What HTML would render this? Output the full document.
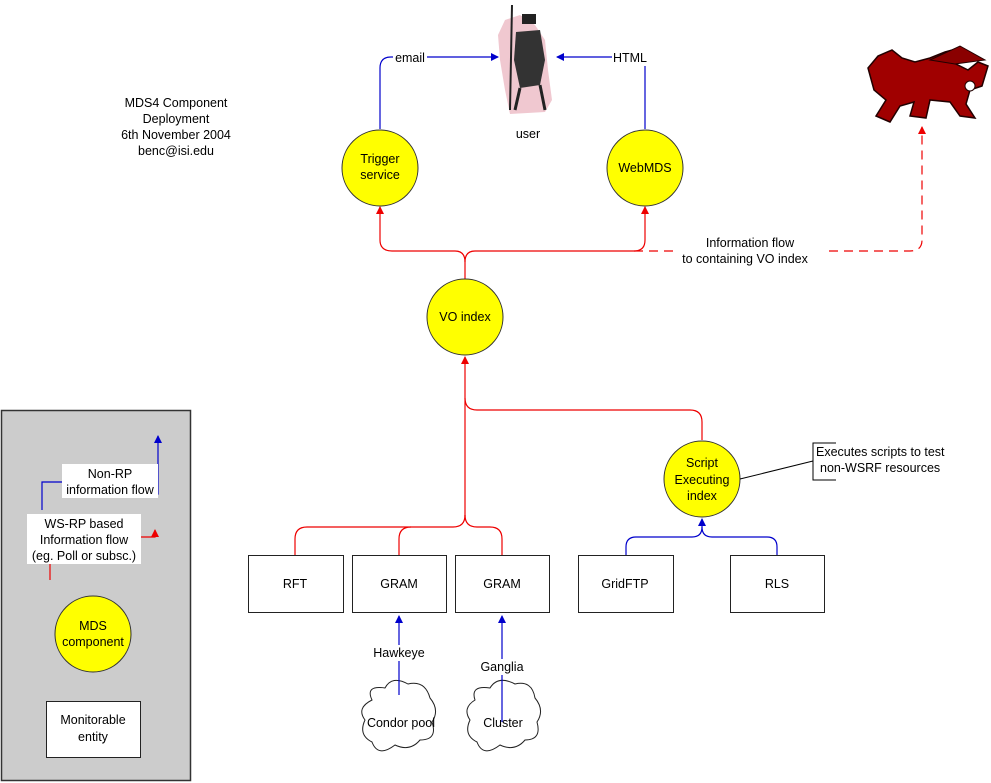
<!DOCTYPE html>
<html><head><meta charset="utf-8"><style>
html,body{margin:0;padding:0;background:#fff}
svg{display:block;font-family:"Liberation Sans",Arial,sans-serif;font-size:12.5px}
</style></head><body>
<svg width="991" height="783" viewBox="0 0 991 783" xmlns="http://www.w3.org/2000/svg">
<defs>
<marker id="ar" markerWidth="8" markerHeight="8" refX="7" refY="4" orient="auto" markerUnits="userSpaceOnUse"><path d="M0,0 L8,4 L0,8 z" fill="#e00"/></marker>
<marker id="ab" markerWidth="8" markerHeight="8" refX="7" refY="4" orient="auto" markerUnits="userSpaceOnUse"><path d="M0,0 L8,4 L0,8 z" fill="#00c"/></marker>
</defs>

<!-- legend -->
<rect x="1.5" y="410.5" width="189" height="370" fill="#cccccc" stroke="#333" stroke-width="1.5"/>
<path d="M42,510 V482 H62" fill="none" stroke="#00c" stroke-width="1.2"/>
<path d="M146,494 H158 V436" fill="none" stroke="#00c" stroke-width="1.2" marker-end="url(#ab)"/>
<rect x="62" y="464" width="96" height="34" fill="#fff"/>
<text x="110" y="478" text-anchor="middle">Non-RP</text>
<text x="110" y="494" text-anchor="middle">information flow</text>
<path d="M50,562 V580" fill="none" stroke="#e00" stroke-width="1.2"/>
<path d="M140,537 H155 V530" fill="none" stroke="#e00" stroke-width="1.2" marker-end="url(#ar)"/>
<rect x="27" y="514" width="114" height="50" fill="#fff"/>
<text x="84" y="528" text-anchor="middle">WS-RP based</text>
<text x="84" y="544" text-anchor="middle">Information flow</text>
<text x="84" y="560" text-anchor="middle">(eg. Poll or subsc.)</text>
<circle cx="93" cy="634" r="38" fill="#ffff00" stroke="#333"/>
<text x="93" y="630" text-anchor="middle">MDS</text>
<text x="93" y="646" text-anchor="middle">component</text>
<rect x="46.5" y="701.5" width="94" height="56" fill="#fff" stroke="#222"/>
<text x="93" y="724" text-anchor="middle">Monitorable</text>
<text x="93" y="741" text-anchor="middle">entity</text>

<!-- title -->
<text x="176" y="107" text-anchor="middle">MDS4 Component</text>
<text x="176" y="123" text-anchor="middle">Deployment</text>
<text x="176" y="139" text-anchor="middle">6th November 2004</text>
<text x="176" y="155" text-anchor="middle">benc@isi.edu</text>

<!-- user figure -->
<path d="M505,20 L520,15 L535,25 L545,40 L548,70 L552,100 L545,112 L510,114 L505,90 L500,60 L498,35 z" fill="#f0c8d0"/>
<path d="M512,5 L510,110" stroke="#222" stroke-width="2"/>
<rect x="522" y="14" width="14" height="10" fill="#222"/>
<path d="M516,32 L540,30 L545,60 L540,85 L520,88 L514,60 z" fill="#333"/>
<path d="M520,88 L515,110 M540,85 L545,110" stroke="#222" stroke-width="3"/>
<text x="528" y="138" text-anchor="middle">user</text>

<!-- dragon -->
<path d="M868,68 L878,56 L892,50 L902,58 L915,62 L930,58 L945,52 L960,48 L952,62 L968,70 L978,62 L988,66 L982,86 L970,90 L966,104 L975,118 L960,116 L950,102 L930,100 L926,118 L910,116 L914,102 L900,106 L890,122 L876,116 L886,100 L874,90 z" fill="#a00000" stroke="#200" stroke-width="1.5"/>
<path d="M930,60 L960,46 L985,60 L955,64 z" fill="#8a0000" stroke="#200"/>
<circle cx="970" cy="86" r="5" fill="#fff" stroke="#200"/>

<!-- blue to user -->
<path d="M380,129 V68 Q380,57 391,57 H498" fill="none" stroke="#00c" stroke-width="1.2" marker-end="url(#ab)"/>
<rect x="393" y="50" width="34" height="14" fill="#fff"/>
<text x="410" y="62" text-anchor="middle">email</text>
<path d="M645,129 V57 H557" fill="none" stroke="#00c" stroke-width="1.2" marker-end="url(#ab)"/>
<rect x="612" y="50" width="36" height="16" fill="#fff"/>
<text x="630" y="62" text-anchor="middle">HTML</text>

<!-- red top -->
<path d="M465,279 V262 Q465,251 455,251 H392 Q380,251 380,240 V207" fill="none" stroke="#e00" stroke-width="1.2" marker-end="url(#ar)"/>
<path d="M465,262 Q465,251 475,251 H634 Q645,251 645,240 V207" fill="none" stroke="#e00" stroke-width="1.2" marker-end="url(#ar)"/>
<path d="M634,251 H910 Q922,251 922,240 V127" fill="none" stroke="#e00" stroke-width="1.2" stroke-dasharray="9,6" marker-end="url(#ar)"/>
<rect x="675" y="234" width="150" height="32" fill="#fff"/>
<text x="750" y="247" text-anchor="middle">Information flow</text>
<text x="745" y="263" text-anchor="middle">to containing VO index</text>

<!-- circles -->
<circle cx="380" cy="168" r="38" fill="#ffff00" stroke="#333"/>
<text x="380" y="163" text-anchor="middle">Trigger</text>
<text x="380" y="179" text-anchor="middle">service</text>
<circle cx="645" cy="168" r="38" fill="#ffff00" stroke="#333"/>
<text x="645" y="172" text-anchor="middle">WebMDS</text>
<circle cx="465" cy="317" r="38" fill="#ffff00" stroke="#333"/>
<text x="465" y="321" text-anchor="middle">VO index</text>

<!-- red bottom -->
<path d="M465,520 V357" fill="none" stroke="#e00" stroke-width="1.2" marker-end="url(#ar)"/>
<path d="M465,398 Q465,410 477,410 H690 Q702,410 702,422 V440" fill="none" stroke="#e00" stroke-width="1.2"/>
<path d="M465,515 Q465,527 453,527 H307 Q295,527 295,539 V555" fill="none" stroke="#e00" stroke-width="1.2"/>
<path d="M411,527 Q399,527 399,539 V555" fill="none" stroke="#e00" stroke-width="1.2"/>
<path d="M465,515 Q465,527 477,527 H490 Q502,527 502,539 V555" fill="none" stroke="#e00" stroke-width="1.2"/>

<!-- script index -->
<circle cx="702" cy="479" r="38" fill="#ffff00" stroke="#333"/>
<text x="702" y="467" text-anchor="middle">Script</text>
<text x="702" y="484" text-anchor="middle">Executing</text>
<text x="702" y="500" text-anchor="middle">index</text>
<path d="M740,479 L813,461" stroke="#000" stroke-width="1"/>
<path d="M836,443 H813 V480 H836" fill="none" stroke="#000"/>
<text x="816" y="456">Executes scripts to test</text>
<text x="820" y="472">non-WSRF resources</text>
<path d="M626,555 V547 Q626,537 636,537 H692 Q702,537 702,527 V519" fill="none" stroke="#00c" stroke-width="1.2" marker-end="url(#ab)"/>
<path d="M777,555 V547 Q777,537 767,537 H712 Q702,537 702,527" fill="none" stroke="#00c" stroke-width="1.2"/>

<!-- boxes -->
<g fill="#fff" stroke="#222">
<rect x="248.5" y="555.5" width="95" height="57"/>
<rect x="352.5" y="555.5" width="94" height="57"/>
<rect x="455.5" y="555.5" width="94" height="57"/>
<rect x="578.5" y="555.5" width="95" height="57"/>
<rect x="730.5" y="555.5" width="94" height="57"/>
</g>
<text x="295" y="588" text-anchor="middle">RFT</text>
<text x="399" y="588" text-anchor="middle">GRAM</text>
<text x="502" y="588" text-anchor="middle">GRAM</text>
<text x="625" y="588" text-anchor="middle">GridFTP</text>
<text x="777" y="588" text-anchor="middle">RLS</text>

<!-- clouds -->
<path d="M372,700 Q365,685 385,688 Q392,675 408,684 Q425,680 430,698 Q440,710 432,722 Q438,740 420,740 Q410,752 395,745 Q378,758 372,742 Q358,735 365,720 Q356,708 372,700 z" fill="#fff" stroke="#222"/>
<path d="M475,700 Q470,685 490,688 Q498,675 515,684 Q532,680 535,698 Q545,710 537,722 Q542,740 525,740 Q515,752 500,745 Q483,758 477,742 Q463,735 470,720 Q462,708 475,700 z" fill="#fff" stroke="#222"/>
<path d="M399,695 V616" fill="none" stroke="#00c" stroke-width="1.2" marker-end="url(#ab)"/>
<path d="M502,722 V616" fill="none" stroke="#00c" stroke-width="1.2" marker-end="url(#ab)"/>
<rect x="370" y="645" width="58" height="16" fill="#fff"/>
<text x="399" y="657" text-anchor="middle">Hawkeye</text>
<rect x="475" y="659" width="54" height="16" fill="#fff"/>
<text x="502" y="671" text-anchor="middle">Ganglia</text>
<text x="401" y="727" text-anchor="middle">Condor pool</text>
<text x="503" y="727" text-anchor="middle">Cluster</text>
</svg>
</body></html>
